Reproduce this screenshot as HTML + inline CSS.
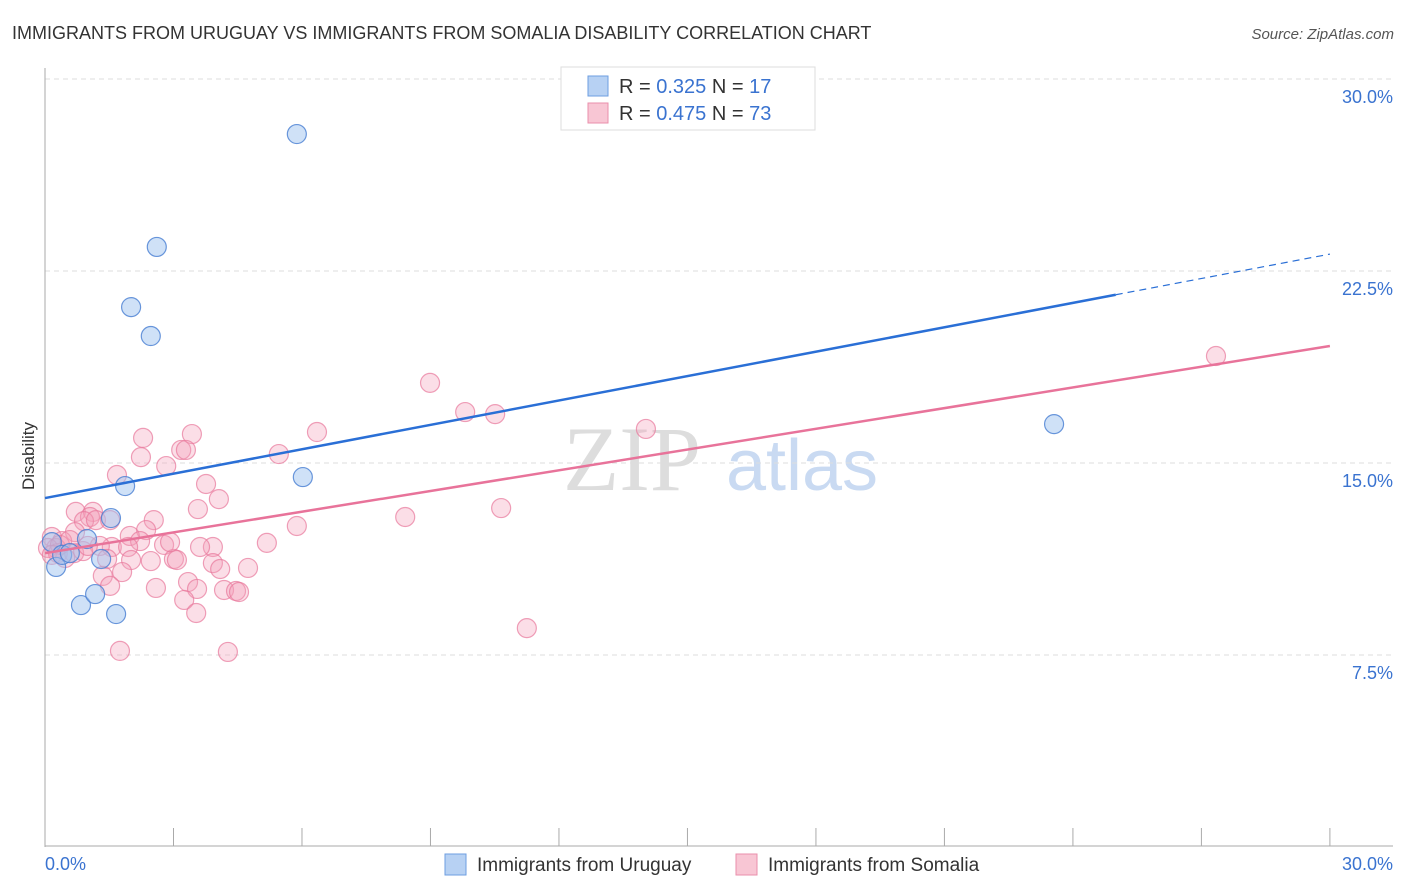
<!DOCTYPE html>
<html><head><meta charset="utf-8"><style>
body{margin:0;background:#fff;font-family:"Liberation Sans",sans-serif;}
#wrap{position:relative;width:1406px;height:892px;overflow:hidden;}
</style></head><body>
<div id="wrap">
<svg id="chart" width="1406" height="892" xmlns="http://www.w3.org/2000/svg">
<text x="12" y="39" font-size="18" fill="#333">IMMIGRANTS FROM URUGUAY VS IMMIGRANTS FROM SOMALIA DISABILITY CORRELATION CHART</text>
<text x="1394" y="39" font-size="15" fill="#555" font-style="italic" text-anchor="end">Source: ZipAtlas.com</text>
<text x="34" y="456" font-size="17" fill="#333" transform="rotate(-90 34 456)" text-anchor="middle">Disability</text>
<g>
<text x="632" y="490" font-size="92" fill="#ddd" font-family="Liberation Serif,serif" text-anchor="middle">ZIP</text>
<text x="802" y="490" font-size="72" fill="#c9daf2" text-anchor="middle">atlas</text>
</g>
<g id="grid"></g><g id="marks"></g>
<g>
<rect x="561" y="67" width="254" height="63" fill="#fff" stroke="#ddd"/>
<rect x="588" y="76" width="20" height="20" fill="#b7d1f3" stroke="#6d9ee0"/>
<rect x="588" y="103" width="20" height="20" fill="#f8c6d4" stroke="#ea8fab"/>
<text x="619" y="93" font-size="20" fill="#333">R = <tspan fill="#3a73d0">0.325</tspan>    N = <tspan fill="#3a73d0">17</tspan></text>
<text x="619" y="120" font-size="20" fill="#333">R = <tspan fill="#3a73d0">0.475</tspan>    N = <tspan fill="#3a73d0">73</tspan></text>
</g>
<g>
<rect x="445" y="854" width="21" height="21" fill="#b7d1f3" stroke="#6d9ee0"/>
<text x="477" y="871" font-size="19" fill="#333">Immigrants from Uruguay</text>
<rect x="736" y="854" width="21" height="21" fill="#f8c6d4" stroke="#ea8fab"/>
<text x="768" y="871" font-size="19" fill="#333">Immigrants from Somalia</text>
</g>
</svg>
</div>
<script>
const yTicks=[7.5,15,22.5,30];
const yTickLabels=["7.5%","15.0%","22.5%","30.0%"];
const xTickLabels=["0.0%","30.0%"];
const uruX=[5.88,2.61,2.01,2.47,23.56,6.02,1.87,1.54,0.98,0.16,1.31,0.26,0.84,1.17,1.66,0.40,0.58];
const uruY=[27.85,23.44,21.09,19.96,16.52,14.45,14.10,12.85,12.03,11.91,11.25,10.94,9.45,9.88,9.10,11.41,11.48];
const somX=[27.34,8.99,9.81,10.51,14.03,6.35,3.43,2.29,3.18,3.29,2.24,2.83,5.46,1.68,3.76,4.06,10.65,3.57,8.41,0.72,1.12,1.05,0.91,1.19,2.54,5.88,2.36,0.70,1.98,0.16,0.40,0.26,1.56,2.22,2.78,5.18,3.92,3.62,1.94,1.28,0.07,0.30,0.68,0.89,1.45,2.01,2.47,3.01,3.08,3.92,4.09,4.74,1.35,1.80,3.34,2.59,1.52,3.55,4.18,4.46,4.53,3.25,3.53,11.25,1.75,4.27,0.47,0.35,2.92,1.52,0.58,1.00,0.16];
const somY=[19.18,18.13,16.99,16.91,16.33,16.21,16.13,15.98,15.51,15.51,15.23,14.88,15.35,14.53,14.18,13.59,13.24,13.20,12.89,13.09,13.09,12.89,12.73,12.77,12.77,12.54,12.38,12.30,12.15,12.11,11.95,11.68,11.72,11.95,11.80,11.88,11.72,11.72,11.72,11.76,11.68,11.48,11.48,11.56,11.25,11.21,11.17,11.25,11.21,11.09,10.86,10.90,10.59,10.74,10.35,10.12,10.20,10.08,10.04,10.00,9.96,9.65,9.14,8.55,7.66,7.62,11.29,11.80,11.91,12.77,11.99,11.76,11.41];
const uruTrend=[13.63,23.16]; // at x=0 and x=30
const somTrend=[11.48,19.57];
const NS="http://www.w3.org/2000/svg";
const X=v=>45+v*42.83, Y=v=>847-v*25.6;
function mk(tag,attrs,parent){const e=document.createElementNS(NS,tag);for(const k in attrs)e.setAttribute(k,attrs[k]);parent.appendChild(e);return e;}
const grid=document.getElementById('grid'), marks=document.getElementById('marks');
yTicks.forEach((t,i)=>{
  const l=mk('line',{x1:45,x2:1393,y1:Y(t),y2:Y(t),stroke:'#ddd','stroke-dasharray':'5,4'},grid);
  
  
  const tx=mk('text',{x:1393,y:Y(t)+24,'font-size':18,fill:'#3a73d0','text-anchor':'end'},grid);
  tx.textContent=yTickLabels[i];
  
  
});
const ax=mk('line',{x1:45,x2:45,y1:68,y2:847,stroke:'#aaa'},grid);


const bx=mk('line',{x1:45,x2:1393,y1:846,y2:846,stroke:'#aaa'},grid);


for(let i=0;i<=10;i++){
  const t=mk('line',{x1:X(i*3),x2:X(i*3),y1:828,y2:846,stroke:'#aaa'},grid);
  
  
}
[[0,'start',45],[30,'end',1393]].forEach((d,i)=>{
  const tx=mk('text',{x:d[2],y:870,'font-size':18,fill:'#3a73d0','text-anchor':d[1]},grid);
  tx.textContent=xTickLabels[i];
  
  
});
somX.forEach((x,i)=>{
  const c=mk('circle',{cx:X(x),cy:Y(somY[i]),r:9.5,fill:'rgba(244,160,186,0.35)',stroke:'rgba(232,120,155,0.7)','stroke-width':1.2},marks);
  
  
});
uruX.forEach((x,i)=>{
  const c=mk('circle',{cx:X(x),cy:Y(uruY[i]),r:9.5,fill:'rgba(160,195,240,0.5)',stroke:'rgba(70,125,210,0.8)','stroke-width':1.2},marks);
  
  
});
const uy=x=>uruTrend[0]+(uruTrend[1]-uruTrend[0])*x/30;
const t1=mk('line',{x1:X(0),y1:Y(uy(0)),x2:X(25),y2:Y(uy(25)),stroke:'#2a6fd6','stroke-width':2.5},marks);


const t2=mk('line',{x1:X(25),y1:Y(uy(25)),x2:X(30),y2:Y(uy(30)),stroke:'#2a6fd6','stroke-width':1.2,'stroke-dasharray':'7,5'},marks);


const t3=mk('line',{x1:X(0),y1:Y(somTrend[0]),x2:X(30),y2:Y(somTrend[1]),stroke:'#e8739a','stroke-width':2.5},marks);


</script>
</body></html>
